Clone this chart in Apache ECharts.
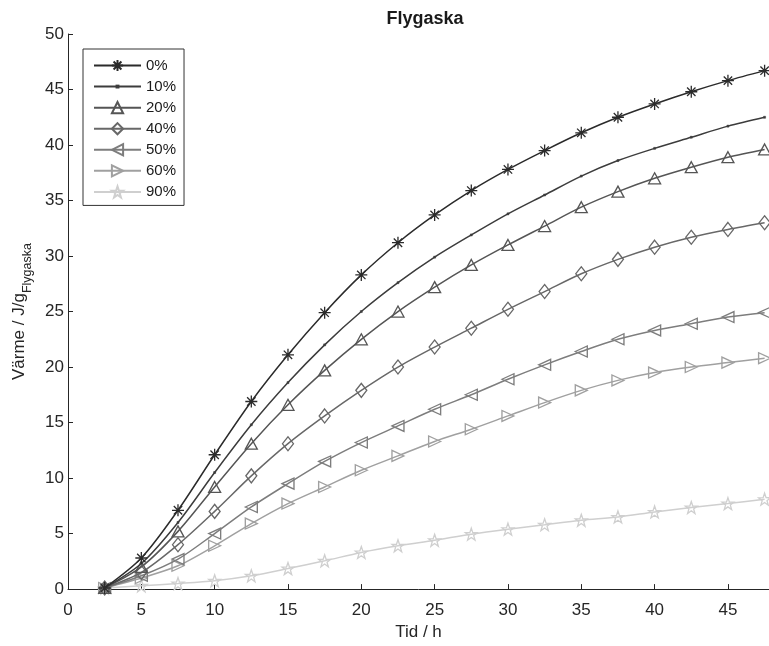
<!DOCTYPE html>
<html><head><meta charset="utf-8">
<script src="https://cdn.jsdelivr.net/npm/echarts@6/dist/echarts.min.js"></script>
<style>html,body{margin:0;padding:0;background:#fff}#c{width:769px;height:646px}</style>
</head><body><div id="c"></div>
<script>
const xValues = [2.5,5,7.5,10,12.5,15,17.5,20,22.5,25,27.5,30,32.5,35,37.5,40,42.5,45,47.5];
const xTicks = [0,5,10,15,20,25,30,35,40,45];
const yTicks = [0,5,10,15,20,25,30,35,40,45,50];
const seriesNames = ['0%','10%','20%','40%','50%','60%','90%'];
const s0  = [0.1,2.8,7.1,12.1,16.9,21.1,24.9,28.3,31.2,33.7,35.9,37.8,39.5,41.1,42.5,43.7,44.8,45.8,46.7];
const s10 = [0.1,2.3,6.0,10.5,14.8,18.6,22.0,25.0,27.6,29.9,31.9,33.8,35.5,37.2,38.6,39.7,40.7,41.7,42.5];
const s20 = [0.1,2.0,5.2,9.2,13.1,16.6,19.7,22.5,25.0,27.2,29.2,31.0,32.7,34.4,35.8,37.0,38.0,38.9,39.6];
const s40 = [0.1,1.5,4.0,7.0,10.2,13.1,15.6,17.9,20.0,21.8,23.5,25.2,26.8,28.4,29.7,30.8,31.7,32.4,33.0];
const s50 = [0.1,1.2,2.7,5.0,7.4,9.5,11.5,13.2,14.7,16.2,17.5,18.9,20.2,21.4,22.5,23.3,23.9,24.5,24.9];
const s60 = [0.1,1.0,2.1,3.9,5.9,7.7,9.2,10.7,12.0,13.3,14.4,15.6,16.8,17.9,18.8,19.5,20.0,20.4,20.8];
const s90 = [0.1,0.3,0.5,0.75,1.2,1.85,2.55,3.3,3.9,4.4,4.95,5.4,5.8,6.2,6.5,6.95,7.35,7.7,8.1];
const allData = [s0,s10,s20,s40,s50,s60,s90];

const colors = ['#2b2b2b','#3c3c3c','#555555','#686868','#7d7d7d','#a0a0a0','#cfcfcf'];
const asterisk = 'path://M0,-6L0,6M-6,0L6,0M-4.2,-4.2L4.2,4.2M-4.2,4.2L4.2,-4.2';
const star = 'path://M0,-6L1.41,-1.94L5.71,-1.85L2.28,0.74L3.53,4.85L0,2.4L-3.53,4.85L-2.28,0.74L-5.71,-1.85L-1.41,-1.94Z';
const dot = 'path://M-6,-6M6,6M-1,-1L1,-1L1,1L-1,1Z';
const symbols = [asterisk,dot,'triangle','diamond','triangle','triangle',star];
const sizes = [12,12,[12,11],[11,14],[11,12],[11,12],12];
const rotates = [0,0,0,0,90,-90,0];

const series = allData.map((d,i)=>({
  name: seriesNames[i],
  type:'line',
  smooth:0.3,
  data: xValues.map((x,j)=>[x,d[j]]),
  symbol: symbols[i],
  symbolSize: sizes[i],
  symbolRotate: rotates[i],
  symbolKeepAspect:false,
  showAllSymbol:true,
  lineStyle:{color:colors[i],width:1.5},
  itemStyle:{color: i===1 ? colors[i] : 'rgba(255,255,255,0)', borderColor:colors[i], borderWidth: i===1 ? 0.5 : 1.3},
  emphasis:{disabled:true},
  z: 10-i
}));

const chart = echarts.init(document.getElementById('c'));
chart.setOption({
  animation:false,
  backgroundColor:'#fff',
  textStyle:{fontFamily:'Liberation Sans'},
  title:{text:'Flygaska',left:420,textAlign:'center',top:5,
    textStyle:{fontFamily:'Liberation Sans',fontWeight:'bold',fontSize:18,color:'#1a1a1a'}},
  grid:{left:68,right:0,top:34,bottom:56},
  legend:{
    orient:'vertical',left:83,top:49,
    data:seriesNames,
    itemWidth:47,itemHeight:14,itemGap:6.07,
    padding:[9,8,6,10],
    borderColor:'#333',borderWidth:1,backgroundColor:'#fff',
    textStyle:{fontFamily:'Liberation Sans',fontSize:15,color:'#1a1a1a'},
    symbolRotate:'inherit'
  },
  xAxis:{
    type:'value',min:0,max:47.8,interval:5,
    name:'Tid / h',nameLocation:'middle',nameGap:33,
    nameTextStyle:{fontFamily:'Liberation Sans',fontSize:17,color:'#262626'},
    axisLine:{lineStyle:{color:'#262626',width:1}},
    axisTick:{inside:true,length:5,lineStyle:{color:'#262626'},customValues:xTicks},
    axisLabel:{fontFamily:'Liberation Sans',fontSize:17,color:'#262626',margin:13,customValues:xTicks},
    splitLine:{show:false}
  },
  yAxis:{
    type:'value',min:0,max:50,interval:5,
    name:'{a|Värme / J/g}{b|Flygaska}',nameLocation:'middle',nameGap:33,
    nameTextStyle:{rich:{
      a:{fontFamily:'Liberation Sans',fontSize:17,color:'#262626',verticalAlign:'bottom',lineHeight:22},
      b:{fontFamily:'Liberation Sans',fontSize:12.5,color:'#262626',verticalAlign:'bottom',lineHeight:14,padding:[0,0,-6,0]}
    }},
    axisLine:{show:true,lineStyle:{color:'#262626',width:1}},
    axisTick:{show:true,inside:true,length:5,lineStyle:{color:'#262626'},customValues:yTicks},
    axisLabel:{fontFamily:'Liberation Sans',fontSize:17,color:'#262626',margin:4,customValues:yTicks},
    splitLine:{show:false}
  },
  series: series
});
</script></body></html>
